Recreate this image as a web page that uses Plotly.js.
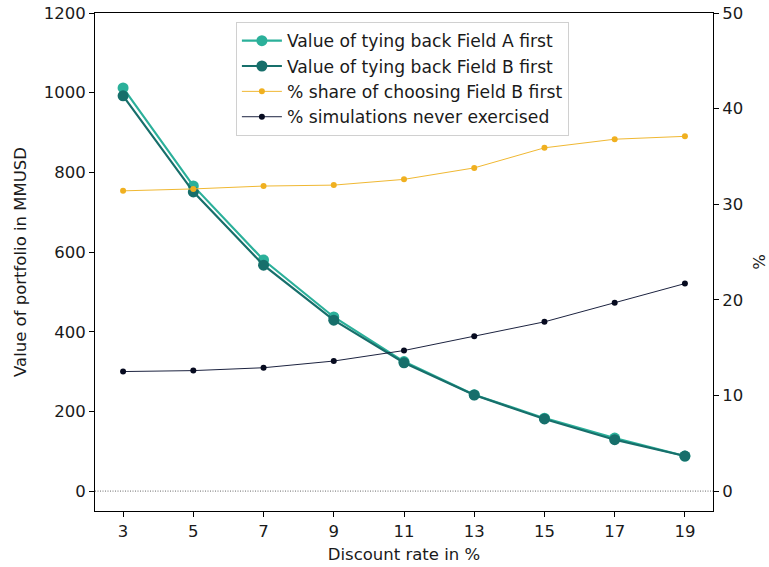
<!DOCTYPE html>
<html>
<head>
<meta charset="utf-8">
<script src="https://cdn.plot.ly/plotly-3.0.1.min.js"></script>
<style>html,body{margin:0;padding:0;background:#fff;}</style>
</head>
<body>
<div id="chart" style="width:769px;height:567px;"></div>
<script>
const discountRates = [3, 5, 7, 9, 11, 13, 15, 17, 19];
const valueFieldAFirst = [1012, 766, 580, 437, 325, 242, 183, 133, 88];
const valueFieldBFirst = [992, 751, 567, 429, 322, 241, 181, 129, 88];
const shareFieldBFirst = [31.4, 31.6, 31.9, 32.0, 32.6, 33.8, 35.9, 36.8, 37.1];
const neverExercised = [12.5, 12.6, 12.9, 13.6, 14.7, 16.2, 17.7, 19.7, 21.7];

const FS = 16.5;
const font = {family: 'DejaVu Sans, sans-serif', size: FS, color: '#1a1a1a'};

const traces = [
  {x: discountRates, y: valueFieldAFirst, name: 'Value of tying back Field A first', mode: 'lines+markers',
   line: {color: '#2bb09a', width: 2.2}, marker: {color: '#2bb09a', size: 11}, yaxis: 'y'},
  {x: discountRates, y: valueFieldBFirst, name: 'Value of tying back Field B first', mode: 'lines+markers',
   line: {color: '#176f6b', width: 2.2}, marker: {color: '#176f6b', size: 11}, yaxis: 'y'},
  {x: discountRates, y: shareFieldBFirst, name: '% share of choosing Field B first', mode: 'lines+markers',
   line: {color: '#f0b832', width: 1}, marker: {color: '#f0b020', size: 6}, yaxis: 'y2'},
  {x: discountRates, y: neverExercised, name: '% simulations never exercised', mode: 'lines+markers',
   line: {color: '#1c2340', width: 1}, marker: {color: '#070b20', size: 6}, yaxis: 'y2'}
];

const layout = {
  width: 769, height: 567,
  margin: {l: 95, r: 56, t: 13, b: 56},
  paper_bgcolor: '#fff', plot_bgcolor: '#fff',
  font: font,
  showlegend: true,
  legend: {x: 0.228, y: 0.982, xanchor: 'left', yanchor: 'top', bgcolor: 'rgba(255,255,255,0.9)',
           bordercolor: '#d0d0d0', borderwidth: 1, itemwidth: 40,
           font: {family: 'DejaVu Sans, sans-serif', size: 17.2, color: '#1a1a1a'},
           tracegroupgap: 0},
  xaxis: {range: [2.2, 19.8], tickvals: discountRates, ticktext: discountRates.map(String),
          showgrid: false, zeroline: false, showline: true, linecolor: '#000', linewidth: 1, mirror: true,
          ticks: 'outside', ticklen: 5, tickcolor: '#000', tickfont: {size: FS},
          title: {text: 'Discount rate in %', font: {size: FS}, standoff: 8}},
  yaxis: {range: [-50, 1200], tickvals: [0, 200, 400, 600, 800, 1000, 1200],
          showgrid: false, zeroline: false, showline: true, linecolor: '#000', linewidth: 1,
          ticks: 'outside', ticklen: 5, tickcolor: '#000', tickfont: {size: FS},
          title: {text: 'Value of portfolio in MMUSD', font: {size: FS}, standoff: 12}},
  yaxis2: {range: [-50/24, 50], tickvals: [0, 10, 20, 30, 40, 50], overlaying: 'y', side: 'right',
           showgrid: false, zeroline: false, showline: true, linecolor: '#000', linewidth: 1,
           ticks: 'outside', ticklen: 5, tickcolor: '#000', tickfont: {size: FS},
           title: {text: '%', font: {size: FS}, standoff: 13}},
  shapes: [{type: 'line', xref: 'paper', x0: 0, x1: 1, yref: 'y', y0: 0, y1: 0,
            line: {color: '#444', width: 0.8, dash: '1px,1.5px'}}]
};

Plotly.newPlot('chart', traces, layout, {displayModeBar: false, staticPlot: true});
</script>
</body>
</html>
